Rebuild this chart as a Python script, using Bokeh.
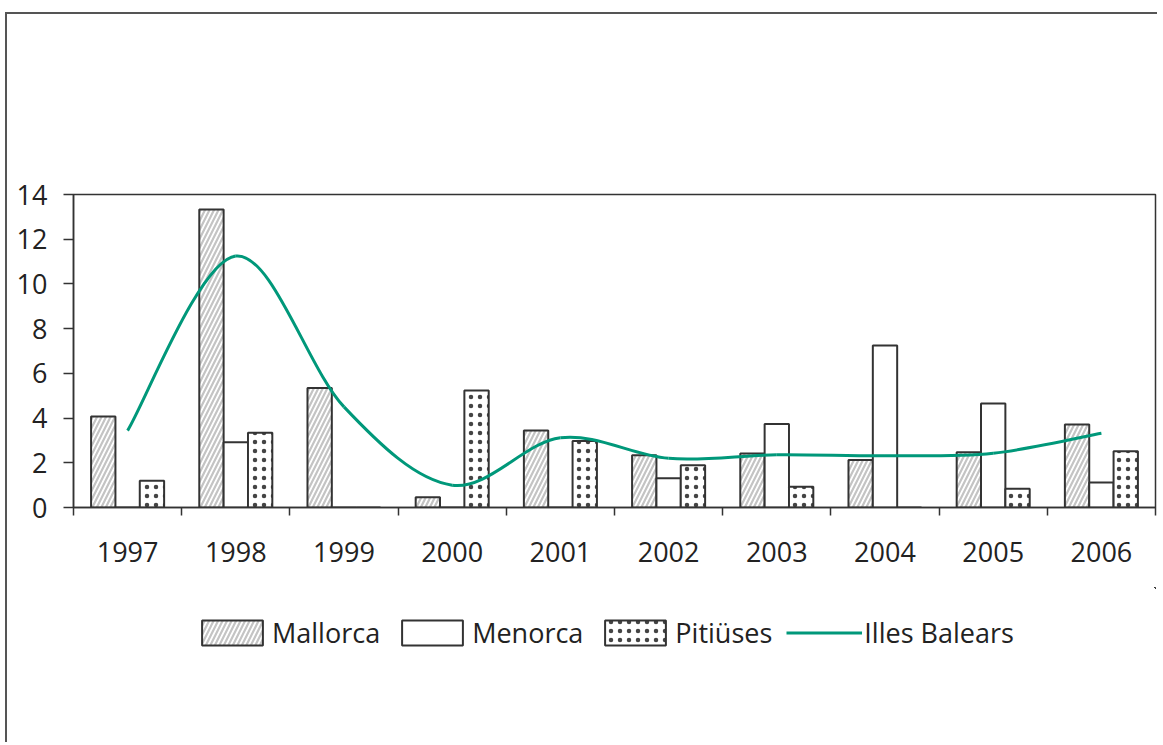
from bokeh.plotting import figure
from bokeh.layouts import column
from bokeh.models import Range1d, FixedTicker, Legend, LegendItem, ColumnDataSource
from bokeh.embed import file_html
from bokeh.resources import INLINE

years = ["1997", "1998", "1999", "2000", "2001", "2002", "2003", "2004", "2005", "2006"]
mallorca = [4.07, 13.33, 5.34, 0.46, 3.44, 2.34, 2.41, 2.13, 2.47, 3.71]
menorca = [0.0, 2.92, 0.0, 0.0, 0.0, 1.31, 3.73, 7.25, 4.65, 1.12]
pitiuses = [1.20, 3.34, 0.0, 5.23, 2.98, 1.89, 0.93, 0.0, 0.84, 2.52]
balears = [3.44, 11.25, 4.5, 1.0, 3.12, 2.2, 2.36, 2.31, 2.43, 3.32]
y_ticks = [0, 2, 4, 6, 8, 10, 12, 14]

FONT = "Open Sans"
FSIZE = "27px"
TEAL = "#00987a"
DARK = "#333333"

n = len(years)
centers = [i + 0.5 for i in range(n)]
bw = 0.225

src = ColumnDataSource(dict(
    xm=[c - bw for c in centers], xn=centers, xp=[c + bw for c in centers],
    mallorca=mallorca, menorca=menorca, pitiuses=pitiuses))


def ctrl(xs, ys):
    # smoothed line: Catmull-Rom style bezier segments through the data points
    x0, y0, x1, y1, cx0, cy0, cx1, cy1 = [], [], [], [], [], [], [], []
    m = len(xs)
    for i in range(m - 1):
        ip = max(i - 1, 0)
        inn = min(i + 2, m - 1)
        x0.append(xs[i]); y0.append(ys[i]); x1.append(xs[i + 1]); y1.append(ys[i + 1])
        cx0.append(xs[i] + (xs[i + 1] - xs[ip]) / 6.0)
        cy0.append(ys[i] + (ys[i + 1] - ys[ip]) / 6.0)
        cx1.append(xs[i + 1] - (xs[inn] - xs[i]) / 6.0)
        cy1.append(ys[i + 1] - (ys[inn] - ys[i]) / 6.0)
    return dict(x0=x0, y0=y0, x1=x1, y1=y1, cx0=cx0, cy0=cy0, cx1=cx1, cy1=cy1)


bsrc = ColumnDataSource(ctrl(centers, balears))

M_STYLE = dict(fill_color="white", line_color=DARK, line_width=2, hatch_pattern="/",
               hatch_color="#c4c4c4", hatch_weight=2.2, hatch_scale=9)
N_STYLE = dict(fill_color="white", line_color=DARK, line_width=2)
P_STYLE = dict(fill_color="white", line_color=DARK, line_width=2, hatch_pattern="dot",
               hatch_color="#444444", hatch_weight=0.9, hatch_scale=9)
L_STYLE = dict(line_color=TEAL, line_width=3)


def draw(fig):
    rm = fig.vbar(x="xm", top="mallorca", width=bw, source=src, **M_STYLE)
    rn = fig.vbar(x="xn", top="menorca", width=bw, source=src, **N_STYLE)
    rp = fig.vbar(x="xp", top="pitiuses", width=bw, source=src, **P_STYLE)
    rl = fig.bezier(x0="x0", y0="y0", x1="x1", y1="y1", cx0="cx0", cy0="cy0",
                    cx1="cx1", cy1="cy1", source=bsrc, **L_STYLE)
    return rm, rn, rp, rl


p = figure(width=1150, height=573, output_backend="svg", toolbar_location=None,
           x_range=Range1d(0, n), y_range=Range1d(0, 14),
           min_border_left=66, min_border_top=180, min_border_right=2, min_border_bottom=80)
p.xgrid.visible = False
p.ygrid.visible = False
p.outline_line_color = DARK
p.outline_line_width = 1.5
draw(p)

p.xaxis.ticker = FixedTicker(ticks=centers, minor_ticks=list(range(n + 1)))
p.xaxis.major_label_overrides = {c: y for c, y in zip(centers, years)}
p.xaxis.major_tick_out = 0
p.xaxis.major_tick_in = 0
p.xaxis.minor_tick_out = 8
p.xaxis.minor_tick_in = 0
p.xaxis.major_label_standoff = 26
p.yaxis.ticker = FixedTicker(ticks=y_ticks)
p.yaxis.major_tick_out = 10
p.yaxis.major_tick_in = 0
p.yaxis.minor_tick_line_color = None
p.yaxis.major_label_standoff = 16
for ax in (p.xaxis[0], p.yaxis[0]):
    ax.axis_line_color = DARK
    ax.axis_line_width = 1.5
    ax.major_tick_line_color = DARK
    ax.major_tick_line_width = 1.5
    ax.minor_tick_line_color = DARK if ax is p.xaxis[0] else None
    ax.minor_tick_line_width = 1.5
    ax.major_label_text_font = FONT
    ax.major_label_text_font_size = FSIZE
    ax.major_label_text_color = "#222222"

# legend strip (its renderers sit outside its visible range; only the legend shows)
lf = figure(width=1150, height=155, output_backend="svg", toolbar_location=None,
            x_range=Range1d(-20, -19), y_range=Range1d(-20, -19),
            x_axis_location=None, y_axis_location=None,
            min_border_left=0, min_border_right=0, min_border_top=0, min_border_bottom=0)
lf.xgrid.visible = False
lf.ygrid.visible = False
lf.outline_line_color = None
lm, ln, lp, ll = draw(lf)

legend = Legend(items=[
    LegendItem(label="Mallorca", renderers=[lm]),
    LegendItem(label="Menorca", renderers=[ln]),
    LegendItem(label="Pitiüses", renderers=[lp]),
    LegendItem(label="Illes Balears", renderers=[ll]),
], orientation="horizontal", location=(121, 91))
legend.glyph_width = 76
legend.glyph_height = 31
legend.label_height = 31
legend.label_standoff = 2
legend.spacing = 14
legend.padding = 0
legend.margin = 0
legend.border_line_color = None
legend.background_fill_alpha = 0
legend.label_text_font = FONT
legend.label_text_font_size = FSIZE
legend.label_text_color = "#222222"
legend.label_text_baseline = "middle"
lf.add_layout(legend, "center")

layout = column(p, lf, spacing=0)
layout.styles = {"border-left": "2px solid #555555", "border-top": "2px solid #555555",
                 "margin-top": "12px", "margin-left": "5px"}

open("out.html", "w").write(file_html(layout, INLINE))
